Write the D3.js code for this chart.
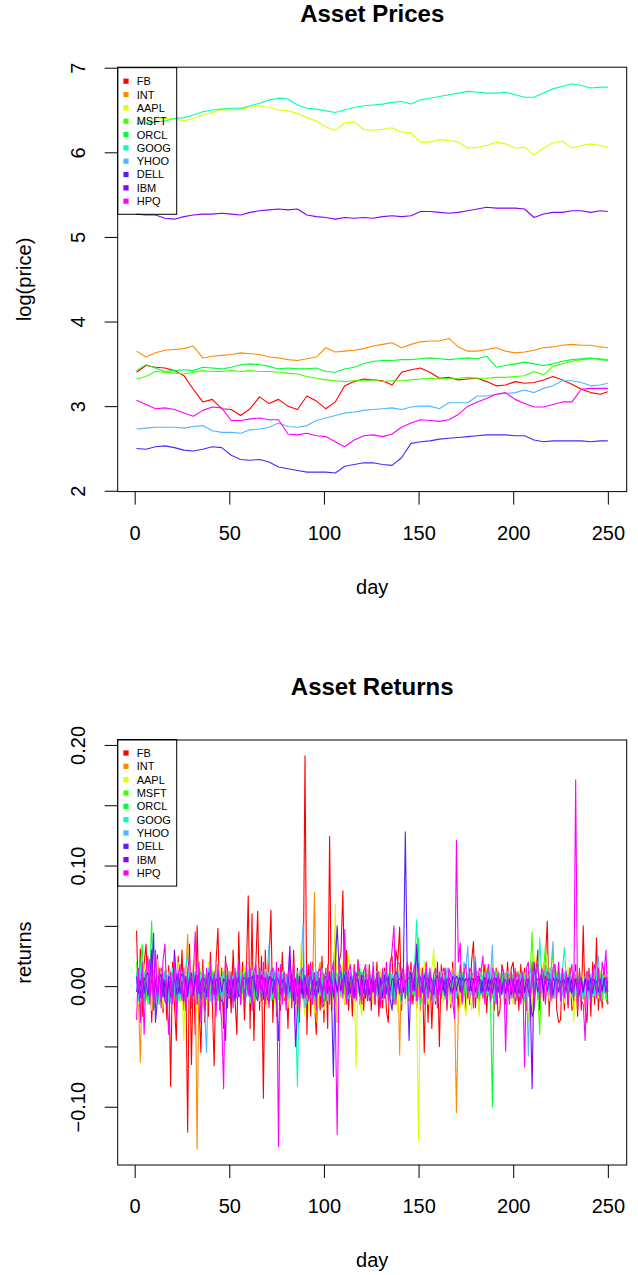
<!DOCTYPE html>
<html><head><meta charset="utf-8">
<script src="https://cdn.jsdelivr.net/npm/d3@7"></script>
<style>body{margin:0;background:#fff}svg{display:block}</style>
</head><body>
<svg id="c" width="638" height="1275"></svg>
<script>
const FONT='"Liberation Sans", Arial, Helvetica, sans-serif';
const tickers=["FB","INT","AAPL","MSFT","ORCL","GOOG","YHOO","DELL","IBM","HPQ"];
const colors=["#FF0000","#FF8C00","#DDFF00","#44FF00","#00FF33","#00FFBB","#4DB8FF","#5522FF","#8800FF","#FF00FF"];
const xTicks=[0,50,100,150,200,250];
const priceTicks=[2,3,4,5,6,7];
const priceTickLabels=["2","3","4","5","6","7"];
const retTicks=[-0.10,-0.05,0,0.05,0.10,0.15,0.20];
const retTickLabels=["\u22120.10","","0.00","","0.10","","0.20"];

// log(price) read every 5 days
const priceDays=[1,6,11,16,21,26,31,36,41,46,51,56,61,66,71,76,81,86,91,96,101,106,111,116,121,126,131,136,141,146,151,156,161,166,171,176,181,186,191,196,201,206,211,216,221,226,231,236,241,246,250];
const pFB=[3.40,3.48,3.46,3.45,3.42,3.36,3.20,3.05,3.08,2.97,2.96,2.89,2.97,3.11,3.03,3.08,3.00,2.96,3.12,3.06,2.97,3.05,3.24,3.29,3.32,3.31,3.30,3.25,3.40,3.43,3.45,3.40,3.33,3.34,3.31,3.32,3.33,3.29,3.24,3.25,3.29,3.27,3.28,3.31,3.35,3.31,3.26,3.20,3.16,3.14,3.17];
const pINT=[3.65,3.58,3.63,3.66,3.67,3.68,3.71,3.57,3.59,3.60,3.61,3.63,3.62,3.61,3.58,3.57,3.55,3.54,3.56,3.58,3.69,3.64,3.65,3.66,3.68,3.71,3.73,3.75,3.69,3.73,3.76,3.77,3.77,3.80,3.70,3.65,3.65,3.67,3.69,3.65,3.63,3.64,3.66,3.69,3.70,3.72,3.73,3.72,3.72,3.70,3.69];
const pAAPL=[6.36,6.37,6.39,6.40,6.40,6.37,6.40,6.44,6.47,6.50,6.50,6.51,6.53,6.55,6.53,6.50,6.49,6.46,6.41,6.37,6.30,6.26,6.35,6.36,6.27,6.26,6.27,6.29,6.24,6.23,6.12,6.12,6.15,6.14,6.12,6.05,6.06,6.08,6.12,6.10,6.05,6.06,5.97,6.05,6.11,6.13,6.05,6.08,6.10,6.08,6.06];
const pMSFT=[3.32,3.35,3.41,3.40,3.39,3.38,3.40,3.42,3.41,3.41,3.42,3.41,3.42,3.41,3.41,3.40,3.39,3.38,3.35,3.33,3.31,3.30,3.29,3.30,3.30,3.31,3.29,3.30,3.30,3.31,3.32,3.33,3.32,3.33,3.33,3.34,3.33,3.33,3.34,3.34,3.35,3.36,3.41,3.37,3.47,3.50,3.53,3.55,3.56,3.56,3.55];
const pORCL=[3.42,3.49,3.45,3.41,3.42,3.43,3.42,3.46,3.45,3.44,3.46,3.49,3.50,3.49,3.47,3.44,3.45,3.44,3.44,3.45,3.41,3.40,3.44,3.46,3.50,3.53,3.54,3.54,3.55,3.55,3.56,3.57,3.56,3.55,3.56,3.57,3.56,3.59,3.46,3.48,3.50,3.52,3.50,3.48,3.50,3.53,3.55,3.56,3.57,3.55,3.54];
const pGOOG=[6.34,6.35,6.36,6.37,6.40,6.41,6.44,6.48,6.50,6.51,6.52,6.52,6.55,6.58,6.62,6.64,6.63,6.56,6.52,6.51,6.49,6.47,6.50,6.53,6.55,6.56,6.57,6.59,6.60,6.57,6.62,6.64,6.66,6.68,6.70,6.72,6.71,6.70,6.70,6.71,6.68,6.65,6.65,6.70,6.75,6.78,6.81,6.79,6.76,6.77,6.77];
const pYHOO=[2.73,2.74,2.75,2.75,2.75,2.74,2.76,2.77,2.71,2.69,2.69,2.68,2.72,2.73,2.75,2.80,2.76,2.75,2.77,2.83,2.86,2.89,2.92,2.93,2.95,2.96,2.97,2.98,2.96,2.99,3.00,3.00,2.97,3.04,3.04,3.04,3.12,3.12,3.14,3.15,3.16,3.19,3.16,3.21,3.24,3.30,3.30,3.28,3.24,3.25,3.27];
const pDELL=[2.50,2.49,2.52,2.53,2.51,2.48,2.47,2.49,2.52,2.51,2.42,2.37,2.36,2.37,2.34,2.28,2.26,2.24,2.22,2.22,2.22,2.21,2.29,2.31,2.33,2.33,2.31,2.30,2.39,2.56,2.58,2.59,2.61,2.62,2.63,2.64,2.65,2.66,2.66,2.66,2.65,2.65,2.60,2.58,2.59,2.59,2.59,2.59,2.58,2.59,2.59];
const pIBM=[5.27,5.26,5.26,5.22,5.21,5.24,5.26,5.27,5.27,5.28,5.27,5.26,5.29,5.31,5.32,5.33,5.32,5.33,5.26,5.24,5.23,5.21,5.23,5.22,5.23,5.22,5.24,5.25,5.24,5.25,5.30,5.30,5.29,5.28,5.29,5.31,5.33,5.35,5.34,5.34,5.34,5.33,5.23,5.27,5.29,5.29,5.31,5.31,5.29,5.31,5.30];
const pHPQ=[3.07,3.02,2.97,2.98,2.96,2.92,2.88,2.95,2.99,2.98,2.83,2.83,2.85,2.86,2.84,2.84,2.67,2.66,2.68,2.65,2.64,2.58,2.52,2.60,2.65,2.66,2.64,2.67,2.75,2.80,2.84,2.83,2.82,2.84,2.90,3.00,3.05,3.09,3.14,3.16,3.08,3.03,2.99,2.99,3.02,3.05,3.05,3.20,3.21,3.21,3.21];

// daily returns, days 1..250
const rFB=[.046,-.012,.031,-.025,.018,.035,-.008,.022,-.03,.012,-.018,.026,-.005,.015,-.022,.009,-.028,.017,-.083,.02,-.014,-.045,.025,-.011,.03,
-.02,.012,-.121,.035,-.065,.018,-.04,.05,-.015,-.055,.022,-.03,.01,-.025,.028,-.012,-.066,.02,.048,-.02,.015,-.035,.025,-.018,.012,
-.022,.03,-.01,-.04,.045,-.015,.02,-.028,.01,.075,-.035,.06,-.045,.018,.062,-.02,.025,-.093,.03,-.015,.02,.063,-.03,.012,-.025,
.015,-.02,.028,-.012,.01,-.035,.022,-.018,.03,-.025,.015,-.03,.02,-.01,.191,-.04,.018,-.025,.02,-.015,-.04,.012,-.02,.025,-.03,
.015,-.035,.124,-.02,.01,.045,-.03,.02,.028,.079,-.015,.03,-.02,.012,-.025,.018,-.01,.022,-.015,.01,-.02,.015,-.012,.018,-.02,
.01,-.015,.02,-.025,.012,-.018,.015,-.02,-.03,.02,.025,-.015,.03,.02,.049,-.02,.015,-.01,.018,-.012,.02,-.015,.01,-.018,.012,
-.02,.015,-.055,.02,-.03,.012,-.035,.01,-.015,.02,-.05,.018,-.01,.015,-.02,.012,-.018,.02,-.015,.01,-.02,.018,-.012,.015,-.02,
.01,-.015,.02,.037,-.018,.012,-.02,.015,-.01,.018,-.022,.012,-.015,.01,-.02,.015,-.025,-.02,.018,.01,-.015,.02,-.012,.015,.02,
-.015,.012,-.02,.018,-.01,.015,-.02,.012,-.018,.02,-.015,.01,.03,-.02,.015,-.012,.02,.054,-.025,.015,-.01,.018,-.02,-.03,-.028,
.015,-.02,.012,-.018,.015,-.02,-.015,.018,-.025,.012,-.02,.05,-.018,-.03,.015,-.025,.02,-.015,.04,-.02,.012,-.018,.015,-.01,-.015];
const rINT=[.008,-.01,-.063,.012,.005,-.008,.015,-.004,.01,-.012,.006,.009,-.007,.011,-.005,.004,-.009,.012,-.006,.008,-.01,.005,.007,-.012,.009,
-.004,.01,.043,-.006,.008,-.01,.012,-.135,.015,-.008,.006,-.01,.009,-.005,.011,-.007,.004,.008,-.012,.006,-.004,.009,-.006,.01,-.008,
.005,-.009,.007,.011,-.006,.004,-.01,.008,-.005,.012,-.007,.006,-.004,.009,-.011,.005,-.006,.008,-.01,.004,-.008,.007,-.005,.006,-.009,
.004,-.006,.01,-.008,.005,-.007,.009,-.004,.006,-.01,.008,-.005,.007,.012,-.009,.006,-.004,.01,-.006,.078,-.03,.012,.02,-.008,.01,
-.006,.009,-.007,.005,.011,-.008,.006,-.004,.01,-.007,.008,-.005,.012,-.009,.006,.01,-.006,.008,-.004,.011,.009,-.007,.012,-.005,.008,
.006,-.009,.01,-.004,.007,.009,-.006,.011,-.008,.005,.01,-.007,.006,.02,-.057,.015,.012,-.006,.01,-.008,.009,.011,-.005,.007,-.009,
.012,.006,-.008,.01,-.004,.007,-.009,.005,.011,-.006,.008,.01,-.007,.009,-.004,.012,-.006,.015,-.01,-.105,-.02,-.012,.01,-.008,.006,
-.01,.005,.008,-.006,.009,-.004,.011,-.007,.006,.01,-.008,.005,.007,-.009,.012,-.006,.004,-.01,.008,-.005,-.009,.006,-.007,.01,-.005,
-.008,.006,.009,-.004,.011,-.007,.005,.008,-.006,.01,-.004,.012,-.009,.006,.008,-.005,.01,-.007,.004,.009,-.006,.011,-.008,.006,.005,
.009,-.007,.008,-.004,.01,-.006,.005,-.008,.007,-.009,.011,-.005,.006,-.004,.008,-.007,.004,-.006,.009,-.005,.006,-.008,.004,-.006,-.004];
const rAAPL=[.012,-.015,.02,-.008,.018,-.012,.01,.015,-.02,.008,-.01,.022,-.006,.012,-.018,.009,.014,-.011,.007,-.016,.013,-.009,.02,-.012,.008,
-.045,.015,-.01,.018,-.007,.012,.025,-.02,.01,.015,-.012,.008,-.015,.02,.011,-.009,.014,-.006,.012,.018,-.01,.008,-.014,.016,-.005,
.01,-.012,.015,-.008,.013,.009,-.011,.017,-.006,.012,-.014,.01,.008,-.009,.015,-.012,.007,-.01,.014,-.018,.011,-.007,.009,-.013,-.02,
.008,-.015,.012,-.01,.006,-.018,.011,-.009,.014,-.02,.01,-.016,.037,-.012,-.025,.015,-.02,.008,-.014,-.022,.012,-.018,.01,-.015,-.02,
-.012,.018,-.015,.01,-.02,.068,-.03,.015,-.01,.02,-.015,-.015,.025,.012,-.01,.015,-.067,.008,-.012,-.025,.014,-.01,.018,-.012,.008,
-.015,.01,.012,-.008,.014,-.011,.009,.016,-.012,.007,-.018,.012,-.009,-.022,.01,-.006,.012,-.015,.008,-.01,.013,-.007,.011,-.014,-.128,
.015,-.01,.02,.012,-.015,-.008,.014,.031,-.012,.009,-.006,.011,-.014,.008,-.01,.012,-.015,.009,-.02,.01,.012,-.018,.008,-.014,-.025,
.011,-.008,-.02,.013,-.009,.01,-.025,.014,.012,-.01,.015,-.008,.011,.018,-.012,.009,.014,-.01,.007,-.012,.01,-.018,.012,-.008,-.015,
.012,-.009,.014,-.011,.008,-.015,.01,-.03,-.012,-.02,.025,.015,.01,-.008,.012,.02,.018,.025,-.012,.015,.01,-.008,.013,.018,-.01,
.011,-.014,.008,.016,-.012,.009,-.03,.012,-.008,.014,-.01,.011,-.007,.013,-.009,.01,-.012,.008,.015,-.01,.012,-.008,.009,-.011,-.01];
const rMSFT=[.02,-.008,.012,-.005,.009,-.011,.006,.01,-.007,.013,-.004,.008,-.01,.005,.011,-.006,.009,-.012,.007,-.004,.01,-.008,.006,.012,-.009,
.005,-.01,.008,.011,-.006,.009,-.004,.012,-.008,.006,-.011,.01,-.005,.007,-.009,.013,-.006,.004,.01,-.007,.008,-.012,.006,.009,-.005,
.011,-.007,.005,-.01,.008,.012,-.006,.009,-.004,.011,-.008,.006,-.012,.01,-.005,.007,-.009,.004,.012,-.006,.008,-.01,.005,-.007,.009,
-.011,.006,.01,-.005,.008,-.007,.004,-.012,.009,-.006,.011,-.008,.005,-.01,-.015,.007,-.006,.012,-.009,.004,-.011,.008,-.006,.01,-.007,
-.012,.006,-.008,.009,-.005,-.01,.007,.004,-.009,.011,-.006,.008,-.004,.01,-.007,.005,.009,-.006,.008,-.011,.006,.004,-.009,.01,-.005,
.007,-.008,.011,-.006,.004,-.01,.008,-.005,.009,.012,-.007,.006,-.009,.011,-.004,.008,-.006,.01,-.008,.005,.009,-.007,.012,-.005,.006,
-.01,.008,-.006,.011,.004,-.009,.007,-.005,.01,-.008,.006,.012,-.007,.005,-.011,.009,-.004,.008,.006,-.01,.007,-.005,.011,-.008,.004,
.009,-.006,.01,-.007,.005,.012,-.009,.006,-.004,.011,-.008,.007,.005,-.01,.008,-.006,.009,.011,-.005,.007,-.009,.004,.01,-.006,.008,
.006,-.01,.012,-.005,.008,.011,-.007,.009,.012,.045,-.012,.008,-.006,-.04,.01,.012,.034,-.008,.015,.01,.03,-.006,.012,.009,-.007,
.011,.008,-.005,.01,.006,-.009,.012,.007,-.006,.009,.008,-.01,.006,.011,-.007,.005,.009,-.008,.006,-.004,.01,-.012,.007,-.009,.008];
const rORCL=[.01,-.007,.015,.035,-.012,.009,-.015,.011,.054,-.02,-.012,.008,-.015,-.01,.006,.012,-.009,.005,.011,-.006,.008,-.01,.004,.012,-.007,
.009,-.005,.011,-.008,.006,-.004,.01,-.007,.008,.012,-.006,.009,-.011,.005,-.008,.01,-.006,.007,-.012,.009,.004,-.008,.011,-.005,.008,
.006,-.01,.012,.009,-.007,.008,-.005,.011,-.009,.006,.004,-.01,.008,-.012,.006,-.005,-.009,.007,-.01,.005,-.008,.006,-.011,.009,-.006,
.005,.008,-.007,.011,-.005,.009,-.008,.006,-.01,.004,.012,-.009,.007,-.006,-.008,.01,.005,-.009,.008,-.007,.011,-.006,.004,-.012,-.015,
.009,-.008,.006,.004,-.011,.012,.008,.01,.007,-.006,.012,.009,.005,.011,-.007,.014,.009,.01,.015,-.006,.012,.011,.008,-.005,.009,
.007,-.004,.008,.006,-.009,.01,.005,-.007,.009,.012,-.008,.006,.004,.007,-.005,.009,.006,-.01,.008,-.006,.011,.005,-.008,.007,.04,
-.015,.008,.009,-.006,.011,.005,-.008,.007,-.01,.004,.009,-.006,.008,-.011,.005,.01,-.007,.006,.009,-.005,.008,-.004,.011,-.009,.006,
.01,-.007,.005,-.008,.009,.004,-.01,.007,-.006,.012,.005,.015,-.008,-.1,.01,.012,-.006,.009,.008,-.005,.011,.007,-.009,.006,.01,
.008,.006,-.007,.01,.005,-.012,.004,-.008,-.01,.007,-.006,.009,-.011,.005,.008,-.006,.012,.009,.011,-.007,.006,.01,.008,.005,.007,
.009,.006,-.005,.008,.004,.007,-.006,.009,.005,.004,.007,-.004,.006,.008,-.007,.005,-.009,.006,.007,-.008,.004,-.006,.005,-.007,-.015];
const rGOOG=[.012,-.01,.015,-.006,.009,.014,-.011,.008,.02,-.012,.006,.01,-.015,.011,-.007,.013,.009,-.012,.006,.015,-.008,.01,-.013,.007,.012,
-.009,.015,.028,-.012,.008,.011,-.006,.014,-.01,.009,.006,-.013,.011,-.005,.01,.008,-.011,.006,.013,-.009,.007,.012,-.008,.005,-.01,
.009,.006,-.011,.012,-.007,.008,.011,-.01,.006,.009,-.012,.013,.01,-.006,.008,.015,-.009,.006,.011,-.008,.013,-.006,.009,.007,-.011,
.01,.008,-.009,.012,-.006,.007,-.01,.013,-.007,-.02,-.083,.012,-.01,.015,-.009,.008,-.012,.01,.006,-.011,-.009,.012,-.008,.006,-.01,
.009,-.012,.007,-.006,.011,-.015,.008,.013,-.007,.01,.006,.009,-.01,.012,.007,-.008,.011,.006,-.009,.012,.008,-.006,.01,.005,-.007,
.009,.006,-.008,.011,.004,-.009,.012,.006,-.007,.01,.005,-.011,.008,.012,-.006,-.015,.009,-.01,.012,-.008,-.014,.01,.02,.055,.012,
.008,-.006,.011,.005,-.009,.012,.007,-.005,.01,-.008,.006,.011,-.007,.009,.005,.012,-.006,.008,.01,-.009,.007,.006,-.01,.011,-.005,
.008,.01,-.007,.006,-.009,.011,.005,-.008,.009,-.006,.004,.01,-.007,.008,.012,-.005,.006,-.009,.011,.007,-.01,.006,-.012,.008,-.009,
-.01,.007,-.006,-.011,.005,.009,-.008,.006,-.01,.012,.008,.015,-.007,.04,.01,.012,.009,.015,-.006,.011,.013,.008,-.006,.01,.009,
.012,.032,.008,-.006,.01,.007,-.009,.005,-.008,.006,-.012,.004,-.009,.007,-.01,.006,.005,-.008,.009,-.006,.004,.007,-.005,.008,.006];
const rYHOO=[.005,-.012,.01,.008,-.015,.012,-.007,.009,.014,-.01,.006,-.013,.011,.008,-.009,.012,-.006,.01,-.014,.007,.011,-.008,.013,-.01,.006,
.009,-.012,.015,.01,-.008,.006,.012,-.015,.008,-.01,.013,-.02,-.055,.015,-.012,-.01,.008,.011,-.007,.009,-.013,.006,.01,-.008,.012,
-.006,.009,-.011,.008,.012,-.007,.01,.006,-.009,.013,.008,-.01,.006,.011,-.008,.009,.012,-.006,.008,.01,.035,-.012,.015,.011,-.009,
.012,-.008,.01,-.006,.009,-.011,.013,-.007,.008,.006,-.014,.01,.015,.052,-.018,-.012,.008,.011,.013,-.009,.012,.01,-.006,.015,.008,
.009,.011,-.007,.012,.006,.01,-.008,.013,.009,-.006,.011,.007,-.01,.012,.008,-.005,.01,.006,-.009,.011,.008,.007,-.006,.01,.005,
.009,-.007,.011,.006,-.01,.008,.012,-.006,.009,-.008,.01,.005,-.011,.012,-.007,.008,.011,-.009,.006,.013,-.008,.01,.007,-.012,.009,
.008,-.006,.011,-.01,.007,.012,-.008,-.015,.013,.009,-.007,.011,.006,-.01,.015,.008,-.006,.01,-.012,.007,.009,.011,-.008,.02,.015,
.033,-.01,.012,.008,.025,-.009,.006,.011,-.007,.01,.012,-.008,.009,.034,-.012,.008,.01,-.007,.011,.006,-.009,.012,.008,-.01,.007,
.009,.006,-.008,.011,.012,-.01,.007,-.058,.015,.009,-.012,.011,.013,.008,-.006,.012,.01,.009,-.007,.015,.037,-.01,.008,.012,.006,
-.008,.011,-.006,.009,.007,-.01,.012,.008,-.012,.009,.006,-.011,.008,.012,-.007,.01,-.009,.006,.011,.025,-.008,.01,-.006,.009,.012];
const rDELL=[-.005,.008,-.01,.012,-.006,.009,.011,-.008,.006,.044,-.03,-.012,.007,.01,-.009,.005,-.011,.008,.006,-.013,.009,-.007,.01,-.006,.004,
-.012,.008,-.009,.006,.011,-.007,.009,-.005,.01,-.012,.007,.006,-.009,.011,.008,-.006,.01,-.008,.005,-.011,-.012,-.015,-.045,.009,-.01,
-.008,.006,-.012,.007,-.009,-.006,.008,-.01,.005,.007,-.009,.006,.011,-.008,-.012,.004,.009,-.011,.007,-.01,-.014,.008,-.006,.005,-.013,
-.045,.009,-.007,.006,-.011,.008,-.005,.01,-.012,.006,-.008,-.008,.006,-.01,.009,-.007,.005,.008,-.006,.011,-.009,.004,.007,-.01,.006,
.008,-.006,.012,-.008,-.075,.02,.05,.015,.01,-.006,.009,.012,-.007,.008,.005,-.01,.011,.006,-.008,.009,.007,-.01,.005,-.012,-.009,
.006,-.008,.011,-.005,.007,-.01,.009,-.006,.008,-.011,-.02,.007,.012,.009,-.006,.01,.015,.128,.012,-.045,.008,.006,-.004,.035,.009,
.007,-.005,.009,.004,-.006,.008,.005,-.007,.006,.009,-.004,.007,.005,-.008,.006,.004,-.005,.008,.006,-.004,.005,.007,-.006,.004,.006,
.005,-.004,.007,.006,-.005,.004,.008,-.006,.005,.007,-.004,.006,-.005,.004,.007,-.006,.005,.004,-.007,.006,.005,-.004,.006,-.005,.004,
-.006,.005,.004,-.007,.006,-.005,.004,.006,-.008,-.025,-.02,.006,-.005,.004,.007,-.006,.005,-.004,.006,.005,-.007,.004,.006,-.005,.004,
.005,-.006,.004,.007,-.005,.006,-.004,.005,.006,-.007,.004,-.005,.006,.005,-.004,.007,-.006,.005,.004,-.005,.006,-.004,.005,.007,-.005];
const rIBM=[.008,-.006,.005,-.009,.007,.004,-.008,.006,.03,-.01,.005,-.007,.009,-.004,.006,-.012,-.015,.005,-.008,-.01,.03,.008,-.006,.007,.01,
.006,.005,-.004,.007,.006,-.008,.005,.009,-.006,.004,.007,-.005,.006,-.004,.008,.005,-.007,.006,.004,.007,-.005,.006,.004,-.006,.005,
-.007,.004,.006,-.005,.008,-.006,.005,.007,.006,-.004,.008,.007,.006,-.005,.009,.006,-.004,.007,.005,-.006,.008,.004,.006,-.005,.007,
.005,-.006,.004,.007,-.005,.006,.033,-.01,.005,-.05,-.02,.008,-.006,.005,.007,-.004,-.01,-.006,.005,-.007,.004,-.005,.006,-.008,.004,
-.006,.005,-.004,.007,-.009,.006,-.005,.008,-.004,.006,.007,-.005,.004,-.006,.005,-.007,.006,.004,-.005,.007,-.006,.005,.004,-.007,.006,
-.005,.004,.006,-.008,.005,.004,-.006,.007,.005,-.004,.006,.005,-.007,.004,.006,.008,-.005,.004,.006,.007,.012,-.004,.008,.03,.006,
-.005,.004,-.006,.005,.007,-.004,-.006,.005,.004,-.007,.006,.005,-.004,.006,-.005,.007,.004,-.006,.005,.008,.006,-.005,.007,.004,.006,
.005,.007,-.004,.006,.005,.008,.006,.004,-.005,.007,.006,-.004,.005,-.006,.004,.007,-.005,.006,-.004,.005,-.006,.004,.005,-.007,.006,
-.004,.005,-.006,.004,.007,-.005,.006,-.004,-.01,-.085,.02,.007,.005,.006,.01,-.004,.008,.005,.006,-.005,.007,.004,.006,.005,-.004,
.006,.005,-.004,.007,.005,-.006,.004,.006,-.005,.004,.007,-.005,.006,-.004,.005,-.007,.006,.004,-.005,.006,.005,-.004,.007,-.005,.004];
const rHPQ=[-.028,.015,-.03,.02,-.04,.012,.025,-.015,.018,-.02,.03,-.012,.015,-.018,.022,.035,-.01,-.04,.012,-.015,.02,-.025,.01,.018,-.012,
.015,-.02,.012,.025,-.018,.01,.045,-.015,.02,-.03,.012,-.02,.015,-.01,.02,-.015,.012,-.025,.018,-.012,-.03,-.085,.02,.015,-.01,
.012,-.018,.015,-.01,.02,-.015,.01,-.012,.018,-.008,.015,-.02,.012,.018,-.01,.015,-.012,.02,-.015,.01,-.018,.012,.015,-.01,.02,
-.133,.018,-.015,.012,-.02,.01,.015,-.012,.02,-.015,.01,-.018,.012,.015,-.01,.018,-.012,.02,-.015,.01,-.02,.012,.015,-.018,.01,
-.012,.018,-.015,.01,.02,-.025,-.123,.02,.015,-.01,.047,-.015,.012,.018,-.01,.015,-.012,.02,.01,-.015,.012,.018,-.01,.015,-.012,
.02,-.015,.01,.012,-.018,.015,-.01,.02,-.012,.015,.03,.05,-.015,.02,.018,-.012,.015,-.01,.02,.012,-.015,.01,.018,-.012,.015,
-.01,.012,-.015,.018,-.01,.015,-.012,.01,.015,-.018,.012,-.01,.015,.012,-.015,.015,.01,-.012,-.027,.121,.02,.036,-.015,.012,.018,
-.01,.015,.012,-.018,.02,-.01,.015,.012,.025,-.015,.01,.018,-.012,.015,.01,-.015,.012,-.01,.015,.012,-.054,.01,-.015,.012,-.01,
.015,-.012,.01,-.015,.012,-.067,.015,.02,-.01,.012,-.015,.01,.018,-.012,.015,.01,-.015,.012,.01,-.012,.015,.018,-.01,.02,-.012,
.015,-.01,.012,-.015,.01,.018,-.012,.171,-.02,.015,-.012,-.015,-.045,.012,.01,-.015,.012,.018,-.01,.015,-.012,.02,.01,.03,-.015];

const prices=[pFB,pINT,pAAPL,pMSFT,pORCL,pGOOG,pYHOO,pDELL,pIBM,pHPQ];
const returns=[rFB,rINT,rAAPL,rMSFT,rORCL,rGOOG,rYHOO,rDELL,rIBM,rHPQ];
const retDays=d3.range(1,251);

const svg=d3.select("#c");
const X0=117.7,X1=626.7;
const x=d3.scaleLinear().domain([-8.96,259.96]).range([X0,X1]);

function panel(cfg){
  const g=svg.append("g");
  const y=d3.scaleLinear().domain(cfg.yDomain).range([cfg.bottom,cfg.top]);
  cfg.series.forEach((s,i)=>{
    g.append("path").datum(s).attr("fill","none").attr("stroke",colors[i])
      .attr("stroke-width",1.1).attr("stroke-linejoin","round")
      .attr("d",d3.line().x((d,j)=>x(cfg.days[j])).y(d=>y(d)));
  });
  g.append("rect").attr("x",X0).attr("y",cfg.top).attr("width",X1-X0).attr("height",cfg.bottom-cfg.top)
    .attr("fill","none").attr("stroke","#000").attr("stroke-width",1);
  const ax=g.append("g").attr("transform",`translate(0,${cfg.bottom})`)
    .call(d3.axisBottom(x).tickValues(xTicks).tickSize(13).tickPadding(21).tickFormat(d3.format("d")));
  ax.select(".domain").remove();
  ax.attr("font-size",20).attr("font-family",FONT);
  ax.selectAll("text").attr("fill","#000");
  ax.selectAll("line").attr("stroke","#000");
  const ay=g.append("g").attr("transform",`translate(${X0},0)`)
    .call(d3.axisLeft(y).tickValues(cfg.yTicks).tickSize(13).tickFormat((d,i)=>cfg.yLabels[i]));
  ay.select(".domain").remove();
  ay.attr("font-size",20).attr("font-family",FONT);
  ay.selectAll("line").attr("stroke","#000");
  ay.selectAll("text").attr("fill","#000").attr("x",0).attr("dy","0.35em")
    .attr("text-anchor","middle").attr("transform","translate(-40,0) rotate(-90)");
  const cx=(X0+X1)/2;
  g.append("text").attr("x",cx).attr("y",cfg.top-45).attr("text-anchor","middle")
    .attr("font-family",FONT).attr("font-size",24).attr("font-weight","bold").text(cfg.title);
  g.append("text").attr("x",cx).attr("y",cfg.bottom+102).attr("text-anchor","middle")
    .attr("font-family",FONT).attr("font-size",20).text("day");
  const cy=(cfg.top+cfg.bottom)/2;
  g.append("text").attr("transform",`translate(24,${cy}) rotate(-90)`).attr("dy","0.35em")
    .attr("text-anchor","middle").attr("font-family",FONT).attr("font-size",20).text(cfg.ylab);
  // legend
  const lg=g.append("g").attr("transform",`translate(${X0},${cfg.legendTop})`);
  lg.append("rect").attr("x",0).attr("y",0).attr("width",59).attr("height",146.6)
    .attr("fill","none").attr("stroke","#000").attr("stroke-width",1);
  tickers.forEach((t,i)=>{
    const yy=13.5+i*13.33;
    lg.append("rect").attr("x",8.3-2.6).attr("y",yy-2.6).attr("width",5.2).attr("height",5.2).attr("fill",colors[i]);
    lg.append("text").attr("x",19).attr("y",yy+4).attr("font-family",FONT).attr("font-size",11).attr("fill","#000").text(t);
  });
}

panel({top:67.2,bottom:491.6,yDomain:[1.99,7.006],series:prices,days:priceDays,
  yTicks:priceTicks,yLabels:priceTickLabels,title:"Asset Prices",ylab:"log(price)",legendTop:67.7});
panel({top:740,bottom:1165,yDomain:[-0.1483,0.2041],series:returns,days:retDays,
  yTicks:retTicks,yLabels:retTickLabels,title:"Asset Returns",ylab:"returns",legendTop:739.5});
</script>
</body></html>
